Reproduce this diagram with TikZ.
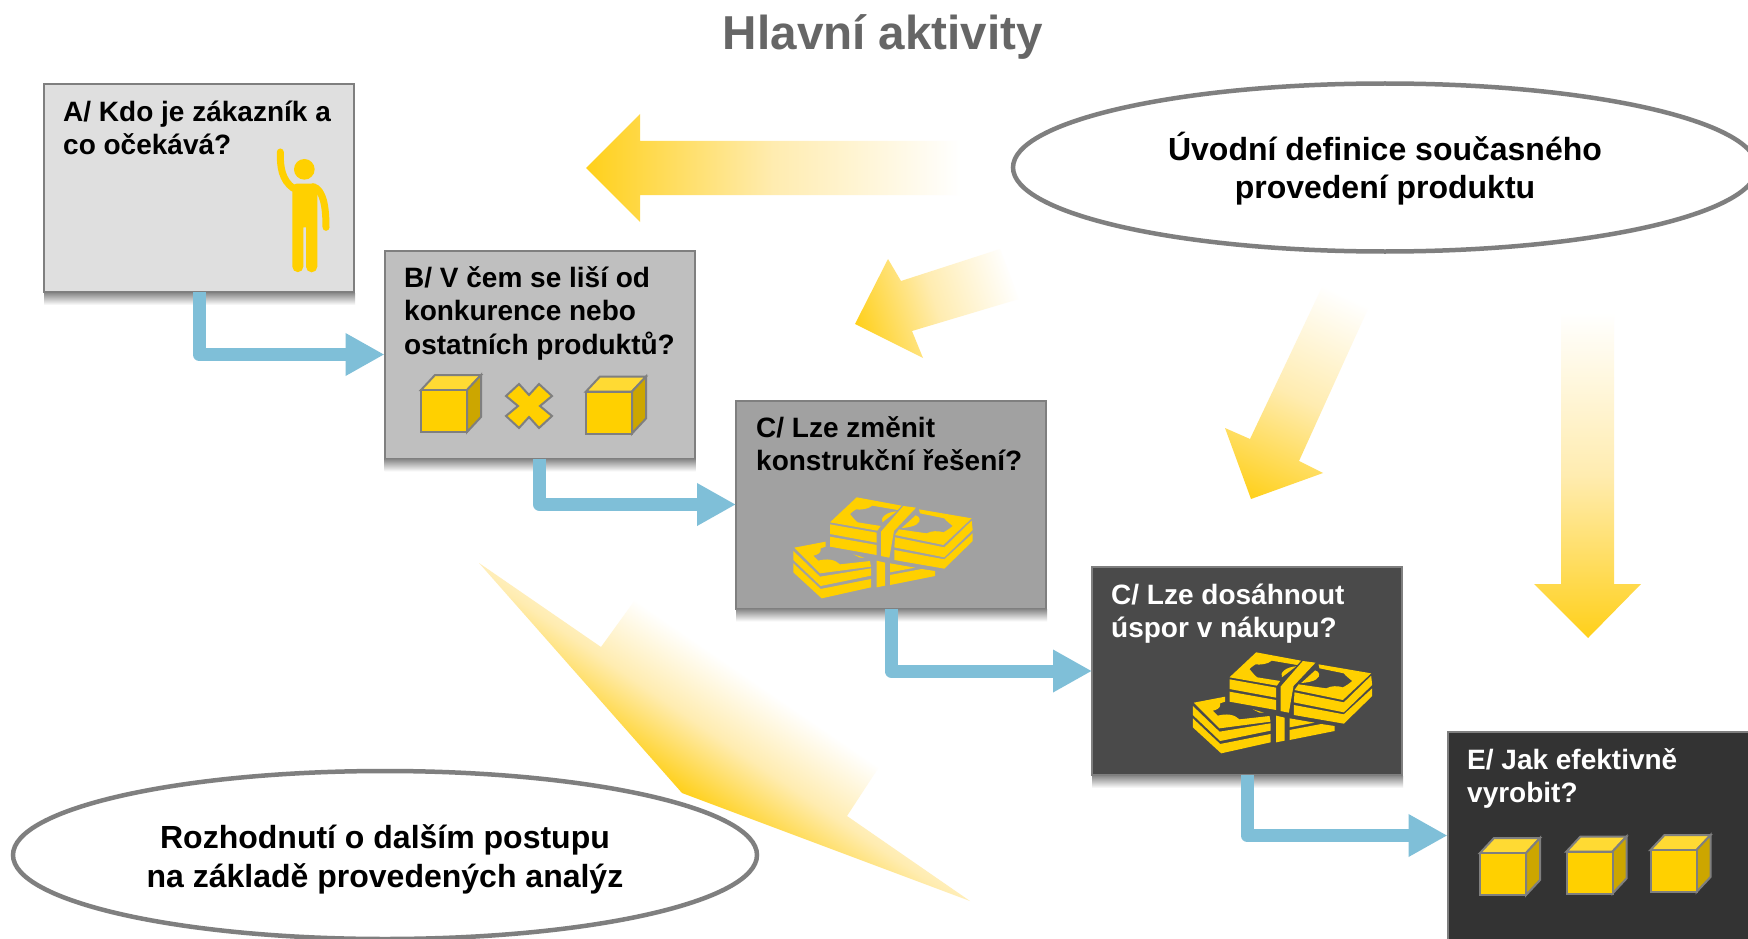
\documentclass[tikz,border=0pt]{standalone}
\usepackage{fontspec}
\setmainfont{Liberation Sans}
\usetikzlibrary{arrows.meta,shapes.geometric,calc}
\definecolor{gold}{HTML}{FFD000}
\definecolor{goldstart}{HTML}{FFD01A}
\definecolor{goldmid}{HTML}{FFECB0}
\definecolor{goldtop}{HTML}{FFDA33}
\definecolor{goldside}{HTML}{CCA600}
\definecolor{edge}{HTML}{7F7F7F}
\definecolor{flow}{HTML}{7FBFD8}
\definecolor{titlegray}{HTML}{666666}
\definecolor{shadowgray}{HTML}{8C8C8C}
\newcommand{\fl}{\rule{0pt}{28pt}}
\newcommand{\gradfill}[4]{%
  \begin{scope}
    \clip #1;
    \begin{scope}[transform canvas={shift={#2},rotate=#3}]
      \shade[left color=goldstart,right color=white,middle color=goldmid] (0,-700) rectangle (#4,700);
    \end{scope}
  \end{scope}}
\tikzset{
  qbox/.style={draw=edge,line width=2pt,rectangle,anchor=north west,inner sep=0pt,outer sep=0pt,
    minimum width=310pt,minimum height=208pt},
  softshadow/.style={top color=shadowgray,bottom color=white,draw=none},
  qtext/.style={anchor=north west,inner sep=0pt,align=left,font=\fontsize{28}{33.6}\selectfont\bfseries},
  oval/.style={ellipse,draw=edge,line width=4.5pt,fill=white,inner sep=0pt,minimum width=744pt,minimum height=168pt},
  ovaltext/.style={align=center,inner sep=0pt,font=\fontsize{32}{38.4}\selectfont\bfseries},
  link/.style={draw=flow,line width=13pt,line join=round,-{Triangle[length=39pt,width=40pt]}},
  cubebox/.pic={
    \begin{scope}[draw=edge,line width=2pt,line join=miter]
      \filldraw[fill=goldtop] (0,0) -- (14,-15) -- (60,-15) -- (46,0) -- cycle;
      \filldraw[fill=goldside] (46,0) -- (60,-15) -- (60,27) -- (46,42) -- cycle;
      \filldraw[fill=gold] (0,0) rectangle (46,42);
    \end{scope}
  },
  money/.pic={
    \begin{scope}[x=0.33333pt,y=-0.33333pt,fill=gold]
      % upper stack, left of strap
      \fill (215,22) -- (350,47) -- (338,60) -- (262,47) .. controls (250,58) and (225,60) .. (213,58)
        .. controls (205,62) and (200,68) .. (195,72) .. controls (205,85) and (212,92) .. (218,97)
        -- (287,108) -- (277,122) -- (135,97) -- cycle;
      \fill (335,64) .. controls (305,66) and (285,82) .. (292,97) -- cycle;
      \fill (135,103) -- (275,128) -- (275,158) -- (135,132) -- cycle;
      \fill (135,140) -- (275,165) -- (275,195) -- (135,170) -- cycle;
      % strap
      \fill (355,48) -- (393,53) -- (327,123) -- (313,203) -- (288,198) -- (288,125) -- cycle;
      % upper stack, right of strap
      \fill (402,58) -- (560,85) -- (475,165) -- (330,135) -- (342,118) -- (425,130)
        .. controls (440,122) and (460,122) .. (475,127) .. controls (485,122) and (495,115) .. (503,108)
        .. controls (495,100) and (485,95) .. (478,85) -- (405,70) -- cycle;
      \fill (392,76) .. controls (405,80) and (410,92) .. (395,103) .. controls (385,110) and (365,113) .. (350,114) -- cycle;
      \fill (330,142) -- (478,172) -- (560,92) -- (563,120) -- (478,202) -- (328,172) -- cycle;
      \fill (328,180) -- (478,208) -- (563,130) -- (563,153) -- (478,236) -- (328,210) -- cycle;
      % lower stack
      \fill (28,173) -- (122,155) -- (122,170) -- (107,175) .. controls (110,190) and (95,195) .. (85,197)
        .. controls (92,205) and (97,208) .. (100,212) .. controls (125,205) and (150,208) .. (165,223)
        -- (255,213) -- (258,230) -- (105,250) -- cycle;
      \fill (25,183) -- (105,260) -- (258,235) -- (258,257) -- (107,288) -- (25,210) -- cycle;
      \fill (25,220) -- (107,297) -- (258,267) -- (258,292) -- (110,325) -- (25,247) -- cycle;
      % lower strap and rest
      \fill (275,212) -- (300,218) -- (300,287) -- (275,292) -- cycle;
      \fill (205,193) -- (238,203) -- (225,203) -- cycle;
      \fill (315,220) -- (390,233) -- (315,247) -- cycle;
      \fill (315,255) -- (410,237) -- (450,243) -- (450,258) -- (315,285) -- cycle;
    \end{scope}
  },
  waver/.pic={
    \begin{scope}[x=0.33333pt,y=-0.33333pt,fill=gold]
      \fill (133,88) circle[radius=31];
      \fill (97,150) .. controls (97,140) and (100,132) .. (110,131) -- (160,131)
        .. controls (168,131) and (172,140) .. (172,160) -- (172,380)
        arc[start angle=0,end angle=180,radius=17] -- (138,262) -- (130,262) -- (130,380)
        arc[start angle=0,end angle=180,radius=16.5] -- cycle;
      \draw[gold,line width=7pt,line cap=round] (61,36) .. controls (60,80) and (65,120) .. (100,145);
      \draw[gold,line width=7pt,line cap=round] (160,140) .. controls (190,150) and (198,200) .. (198,262);
    \end{scope}
  }
}
\begin{document}
\begin{tikzpicture}[x=1pt,y=-1pt]
\path[use as bounding box,fill=white] (0,0) rectangle (1748,939);

% gradient arrows
\gradfill{(586,168) -- (640,114) -- (640,141) -- (961,141) -- (961,195) -- (640,195) -- (640,222) -- cycle}{(586,168)}{0}{375}
\gradfill{(855,324) -- (888,259) -- (901,281) -- (1000,249) -- (1019,299) -- (912,331) -- (923,358) -- cycle}{(855,324)}{18}{165}
\gradfill{(1251,499) -- (1225,428) -- (1250,439) -- (1323,285) -- (1372,300) -- (1299,461) -- (1323,473) -- cycle}{(1251,499)}{64.6}{224}
\gradfill{(1588,638) -- (1534,584) -- (1561,584) -- (1561,312) -- (1614,312) -- (1614,584) -- (1641,584) -- cycle}{(1588,638)}{90}{326}
\gradfill{(682,793) -- (479,563) -- (601,647) -- (635,600) -- (879,767) -- (847,816) -- (970,901) -- cycle}{(682,793)}{55.6}{133}

% title
\node[text=titlegray,font=\fontsize{47.6}{50}\selectfont\bfseries] (title) at (883,37) {Hlavní aktivity};

% ellipses
\node[oval] (start) at (1385,167.5) {};
\node[ovaltext] (starttext) at (1385,168.5) {Úvodní definice současného\\provedení produktu};
\node[oval] (end) at (385,855) {};
\node[ovaltext] (endtext) at (385,859.5) {Rozhodnutí o dalším postupu\\na základě provedených analýz};

% question boxes
\node[qbox,fill=black!12.5] (A) at (44,84) {};
\node[qbox,fill=black!25] (B) at (384.5,250.5) {};
\node[qbox,fill=black!37] (C) at (736,400.5) {};
\node[qbox,fill=black!71] (D) at (1092,567) {};
\node[qbox,fill=black!80] (E) at (1447.5,731.5) {};
\foreach \b in {A,B,C,D}{
  \shade[softshadow] ($(\b.south west)+(0,1)$) rectangle ($(\b.south east)+(1,13)$);
}

\node[qtext] (Atext) at (63,93) {\fl A/ Kdo je zákazník a\\co očekává?};
\node[qtext] (Btext) at (404,259) {\fl B/ V čem se liší od\\konkurence nebo\\ostatních produktů?};
\node[qtext] (Ctext) at (756,409) {\fl C/ Lze změnit\\konstrukční řešení?};
\node[qtext,text=white] (Dtext) at (1111,576) {\fl C/ Lze dosáhnout\\úspor v nákupu?};
\node[qtext,text=white] (Etext) at (1467,741) {\fl E/ Jak efektivně\\vyrobit?};

% connectors
\draw[link] (A.south) |- (B.west);
\draw[link] (B.south) |- (C.west);
\draw[link] (C.south) |- (D.west);
\draw[link] (D.south) |- (E.west);

% icons
\pic at (421,390) {cubebox};
\pic at (586,391.5) {cubebox};
\pic at (260,140) {waver};
\filldraw[fill=gold,draw=edge,line width=2pt,shift={(529,406)}]
  (-10,-22) -- (0,-11) -- (10,-22) -- (23,-10) -- (11,0) -- (23,10) -- (10,22) -- (0,11) -- (-10,22) -- (-23,10) -- (-11,0) -- (-23,-10) -- cycle;
\pic at (785,490) {money};
\pic at (1184.5,645) {money};
\pic at (1480,853) {cubebox};
\pic at (1566.5,851.5) {cubebox};
\pic at (1650.5,850) {cubebox};
\end{tikzpicture}
\end{document}
